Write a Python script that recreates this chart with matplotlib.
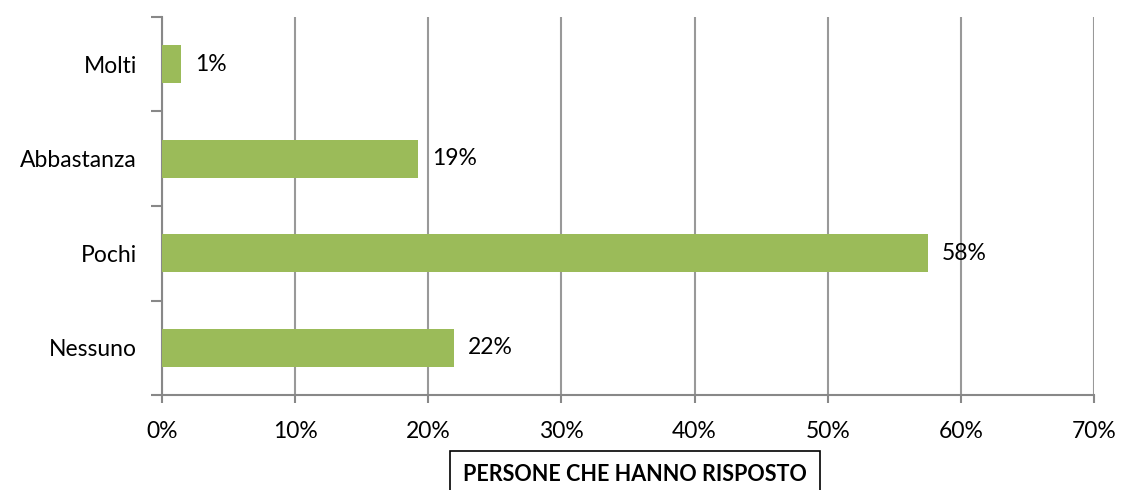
import matplotlib.pyplot as plt
from matplotlib.ticker import PercentFormatter

categorie = ["Nessuno", "Pochi", "Abbastanza", "Molti"]
valori = [21.9, 57.5, 19.2, 1.4]
etichette = ["22%", "58%", "19%", "1%"]
x_ticks = [0, 10, 20, 30, 40, 50, 60, 70]

plt.rcParams['font.family'] = ['Lato', 'DejaVu Sans']

fig = plt.figure(figsize=(11.21, 4.9), dpi=100)
ax = fig.add_axes([162 / 1121, 1 - 395 / 490, 932 / 1121, 378 / 490])

y = list(range(len(categorie)))
ax.barh(y, valori, height=0.4, color="#9BBB59", zorder=3)
for yi, v, lab in zip(y, valori, etichette):
    ax.text(v + 1.1, yi, lab, va="center", ha="left", fontsize=16.5)

ax.set_xlim(0, 70)
ax.set_ylim(-0.5, 3.5)
ax.set_xticks(x_ticks)
ax.xaxis.set_major_formatter(PercentFormatter(decimals=0))
ax.set_yticks([-0.5, 0.5, 1.5, 2.5, 3.5])
ax.set_yticklabels([])
ax.set_yticks(y, minor=True)
ax.set_yticklabels(categorie, minor=True)
ax.tick_params(axis="y", which="minor", length=0, labelsize=16.5, pad=18)
ax.tick_params(axis="y", which="major", length=8, color="#888888", width=1.5)
ax.tick_params(axis="x", length=6, color="#888888", width=1.5, labelsize=16.5, pad=13)

ax.grid(axis="x", color="#999999", linewidth=1.5, zorder=0)
for s in ["top", "right"]:
    ax.spines[s].set_visible(False)
for s in ["left", "bottom"]:
    ax.spines[s].set_color("#888888")
    ax.spines[s].set_linewidth(1.5)

fig.text(635 / 1121, 1 - 474 / 490, "PERSONE CHE HANNO RISPOSTO", ha="center", va="center",
         fontsize=15.5, fontweight="bold",
         bbox=dict(boxstyle="square,pad=0.6", facecolor="white", edgecolor="black", linewidth=1.2))

fig.savefig("out.png", dpi=100)
